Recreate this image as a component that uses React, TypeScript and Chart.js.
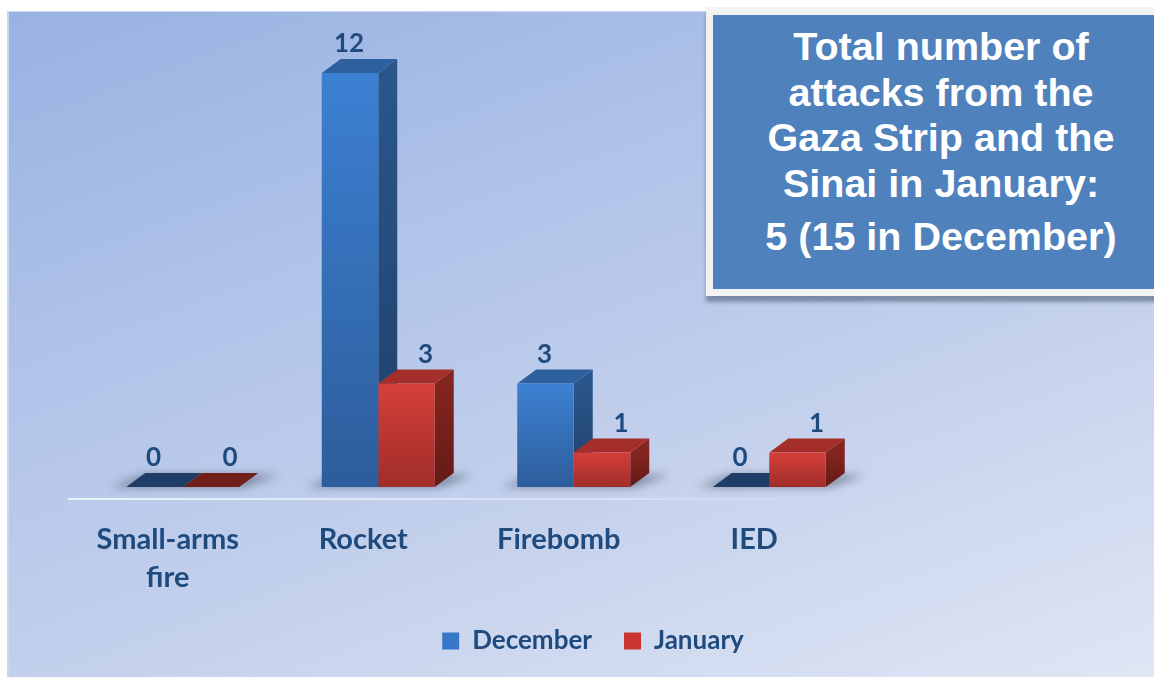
import React, { useEffect, useRef } from 'react';
import { Chart, registerables } from 'chart.js';

Chart.register(...registerables);

// ---- data ----
const CATEGORIES: (string | string[])[] = [['Small-arms', 'fire'], 'Rocket', 'Firebomb', 'IED'];
const DECEMBER = [0, 12, 3, 0];
const JANUARY = [0, 3, 1, 1];
const SERIES_LABELS = ['December', 'January'];
const TITLE_LINES = [
  'Total number of',
  'attacks from the',
  'Gaza Strip and the',
  'Sinai in January:',
  '5 (15 in December)',
];

// ---- styles ----
const TEXT = '#1f4a7e';
const FONT = 'Lato, "Open Sans", sans-serif';
const DX = 19;
const DY = -14;
const LABEL_SHIFT = [-1, 19];

const PALETTE = [
  { frontTop: '#3c80d2', frontBottom: '#2d5d9b', sideTop: '#2a568b', sideBottom: '#1f406a', top: '#2e609e', flat: '#1f3d67', legend: '#3777c8' },
  { frontTop: '#d63f39', frontBottom: '#a02d29', sideTop: '#84251f', sideBottom: '#641a16', top: '#a42e29', flat: '#701f1b', legend: '#c9352f' },
];

function barGeom(el: any) {
  const p = el.getProps(['x', 'y', 'base', 'width'], true);
  return { l: p.x - p.width / 2, r: p.x + p.width / 2, y: p.y, base: p.base, x: p.x };
}

const floorLine = {
  id: 'floorLine',
  beforeDatasetsDraw(chart: any) {
    const { ctx, chartArea } = chart;
    const y = chartArea.bottom + 12;
    const x0 = chartArea.left - 17;
    const x1 = chartArea.right - 20;
    const g = ctx.createLinearGradient(x0, 0, x1, 0);
    g.addColorStop(0, 'rgba(238,244,252,0.95)');
    g.addColorStop(0.7, 'rgba(225,233,247,0.6)');
    g.addColorStop(1, 'rgba(225,233,247,0)');
    ctx.save();
    ctx.strokeStyle = g;
    ctx.lineWidth = 2;
    ctx.beginPath();
    ctx.moveTo(x0, y);
    ctx.lineTo(x1, y);
    ctx.stroke();
    ctx.restore();
  },
};

const bar3d = {
  id: 'bar3d',
  beforeDatasetsDraw(chart: any) {
    const { ctx } = chart;
    const metas = chart.data.datasets.map((_: any, di: number) => chart.getDatasetMeta(di));
    const n = chart.data.labels.length;
    // floor shadows
    ctx.save();
    ctx.filter = 'blur(5px)';
    ctx.fillStyle = 'rgba(45,55,75,0.5)';
    for (let i = 0; i < n; i++) {
      const a = barGeom(metas[0].data[i]);
      const b = barGeom(metas[metas.length - 1].data[i]);
      const base = a.base;
      ctx.beginPath();
      ctx.moveTo(a.l - 16, base);
      ctx.lineTo(b.r + 4, base);
      ctx.lineTo(b.r + DX + 20, base + DY + 2);
      ctx.lineTo(a.l + DX - 2, base + DY + 2);
      ctx.closePath();
      ctx.fill();
    }
    ctx.restore();
    // side + top faces
    for (let i = 0; i < n; i++) {
      metas.forEach((meta: any, di: number) => {
        const p = PALETTE[di];
        const { l, r, y, base } = barGeom(meta.data[i]);
        const flat = base - y < 1;
        ctx.save();
        if (!flat) {
          const sg = ctx.createLinearGradient(0, y, 0, base);
          sg.addColorStop(0, p.sideTop);
          sg.addColorStop(1, p.sideBottom);
          ctx.fillStyle = sg;
          ctx.beginPath();
          ctx.moveTo(r, y);
          ctx.lineTo(r + DX, y + DY);
          ctx.lineTo(r + DX, base + DY);
          ctx.lineTo(r, base);
          ctx.closePath();
          ctx.fill();
        }
        ctx.fillStyle = flat ? p.flat : p.top;
        ctx.beginPath();
        ctx.moveTo(l, y);
        ctx.lineTo(r, y);
        ctx.lineTo(r + DX, y + DY);
        ctx.lineTo(l + DX, y + DY);
        ctx.closePath();
        ctx.fill();
        ctx.restore();
      });
    }
  },
};

const valueLabels = {
  id: 'valueLabels',
  afterDatasetsDraw(chart: any) {
    const { ctx } = chart;
    ctx.save();
    ctx.font = `bold 26px ${FONT}`;
    ctx.fillStyle = TEXT;
    ctx.textAlign = 'center';
    ctx.textBaseline = 'middle';
    chart.data.datasets.forEach((ds: any, di: number) => {
      const meta = chart.getDatasetMeta(di);
      meta.data.forEach((el: any, i: number) => {
        const { x, y } = barGeom(el);
        ctx.fillText(String(ds.data[i]), x + LABEL_SHIFT[di], y - 29);
      });
    });
    ctx.restore();
  },
};

function frontColor(di: number) {
  return (c: any) => {
    const p = PALETTE[di];
    const chart = c.chart;
    if (c.type !== 'data' || !chart.chartArea || !chart.scales.y) return p.legend;
    const ys = chart.scales.y;
    const top = ys.getPixelForValue(c.parsed.y);
    const base = ys.getPixelForValue(0);
    if (!isFinite(top) || base - top < 1) return p.flat;
    const g = chart.ctx.createLinearGradient(0, top, 0, base);
    g.addColorStop(0, p.frontTop);
    g.addColorStop(1, p.frontBottom);
    return g;
  };
}

export default function App() {
  const canvasRef = useRef<HTMLCanvasElement | null>(null);

  useEffect(() => {
    let chart: Chart | null = null;
    let cancelled = false;
    const build = () => {
      if (cancelled || !canvasRef.current) return;
      chart = new Chart(canvasRef.current, {
        type: 'bar',
        data: {
          labels: CATEGORIES as any,
          datasets: [
            { label: SERIES_LABELS[0], data: DECEMBER, backgroundColor: frontColor(0) as any, borderWidth: 0 },
            { label: SERIES_LABELS[1], data: JANUARY, backgroundColor: frontColor(1) as any, borderWidth: 0 },
          ],
        },
        options: {
          responsive: false,
          animation: false,
          devicePixelRatio: 1,
          layout: { padding: { left: 85, right: 53, top: 38.5, bottom: 13 } },
          datasets: { bar: { categoryPercentage: 0.578, barPercentage: 1 } } as any,
          scales: {
            x: {
              grid: { display: false, drawTicks: false },
              border: { display: false },
              ticks: {
                color: TEXT,
                font: { family: FONT, size: 29, weight: 'bold', lineHeight: 1.31 },
                padding: 34,
                labelOffset: -15,
                maxRotation: 0,
                autoSkip: false,
              },
              afterFit: (s: any) => { s.height = 109; },
            },
            y: {
              position: 'right',
              min: 0,
              max: 13,
              grid: { display: false, drawTicks: false },
              border: { display: false },
              ticks: { display: false },
              afterFit: (s: any) => { s.width = 234; },
            },
          },
          plugins: {
            tooltip: { enabled: false },
            legend: {
              position: 'bottom',
              labels: {
                boxWidth: 17,
                boxHeight: 17,
                padding: 32,
                color: TEXT,
                font: { family: FONT, size: 26, weight: 'bold' },
                generateLabels: (ch: any) =>
                  ch.data.datasets.map((ds: any, i: number) => ({
                    text: ds.label,
                    fillStyle: PALETTE[i].legend,
                    strokeStyle: 'rgba(0,0,0,0)',
                    lineWidth: 0,
                    hidden: false,
                    datasetIndex: i,
                    fontColor: TEXT,
                  })),
              },
            },
          },
        } as any,
        plugins: [floorLine, bar3d, valueLabels],
      });
    };
    const fontsReady = (document as any).fonts
      ? Promise.all([
          (document as any).fonts.load(`bold 29px Lato`),
          (document as any).fonts.load(`bold 39px "Liberation Sans"`),
        ]).catch(() => null)
      : Promise.resolve(null);
    fontsReady.then(build);
    return () => {
      cancelled = true;
      if (chart) chart.destroy();
    };
  }, []);

  return (
    <div style={{ position: 'fixed', left: 0, top: 0, width: 1154, height: 677, overflow: 'hidden', background: '#ffffff' }}>
      <div
        style={{
          position: 'absolute',
          left: 7,
          top: 11,
          right: 0,
          bottom: 0,
          background: 'linear-gradient(160deg, #99b2e2 0%, #adc1e8 30%, #c3d0ec 62%, #dfe6f4 100%)',
          borderLeft: '2px solid #c9d7f0',
          borderTop: '1px solid #c9d7f0',
        }}
      />
      <canvas ref={canvasRef} width={1154} height={677} style={{ position: 'absolute', left: 0, top: 0, width: 1154, height: 677 }} />
      <div
        style={{
          position: 'absolute',
          left: 706,
          top: 7,
          width: 470,
          height: 289,
          background: '#f2f2f2',
          boxShadow: '0px 6px 4px rgba(70,85,110,0.55)',
        }}
      >
        <div style={{ position: 'absolute', left: 7, top: 8, right: 0, bottom: 7, background: '#4f81bd' }}>
          {TITLE_LINES.map((line, i) => (
            <div
              key={i}
              style={{
                position: 'absolute',
                left: 0,
                width: 456,
                top: 8 + i * 45.7 + (i === TITLE_LINES.length - 1 ? 7 : 0),
                height: 46,
                lineHeight: '46px',
                textAlign: 'center',
                color: '#ffffff',
                fontFamily: '"Liberation Sans", Arial, sans-serif',
                fontWeight: 'bold',
                fontSize: 39.5,
                whiteSpace: 'nowrap',
              }}
            >
              {line}
            </div>
          ))}
        </div>
      </div>
    </div>
  );
}
